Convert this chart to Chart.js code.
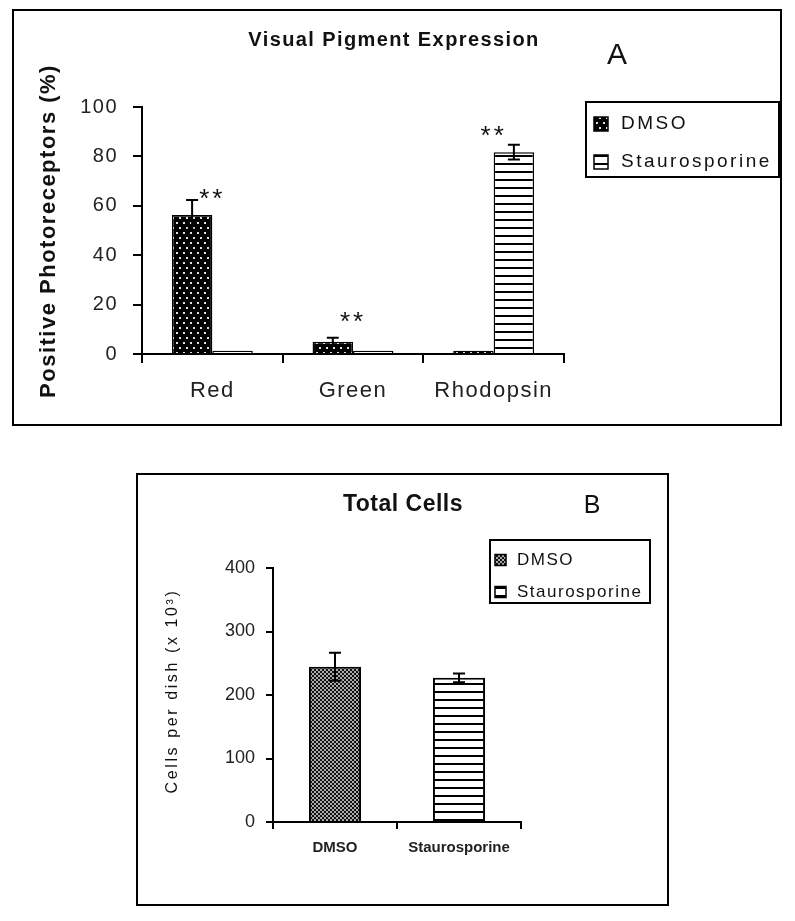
<!DOCTYPE html>
<html>
<head>
<meta charset="utf-8">
<script src="https://cdn.jsdelivr.net/npm/chart.js@4.4.1/dist/chart.umd.min.js"></script>
<style>
body{margin:0;background:#fff;width:795px;height:921px;position:relative;overflow:hidden}
.box{position:absolute;border:2px solid #000;box-sizing:border-box;background:#fff}
#boxA{left:12px;top:9px;width:770px;height:417px}
#boxB{left:136px;top:473px;width:533px;height:433px}
canvas{display:block}
</style>
</head>
<body>
<div class="box" id="boxA"><canvas id="chartA" width="766" height="413"></canvas></div>
<div class="box" id="boxB"><canvas id="chartB" width="529" height="429"></canvas></div>
<script>
/* ---- panel A : visual pigment expression ---- */
const pigmentLabels = ["Red", "Green", "Rhodopsin"];
const seriesNames = ["DMSO", "Staurosporine"];
const dmsoPigment = [56.3, 5.0, 1.3];
const dmsoPigmentErr = [6, 1.6, 0];
const stauroPigment = [1.3, 1.3, 81.7];
const stauroPigmentErr = [0, 0, 3];
const pigmentTicks = [0, 20, 40, 60, 80, 100];
const starLevel = [62.5, 12.5, 88];   // where the ** marks sit

/* ---- panel B : total cells ---- */
const cellLabels = ["DMSO", "Staurosporine"];
const cellMeans = [244.5, 227];
const cellErr = [22, 7];
const cellTicks = [0, 100, 200, 300, 400];

const FONT = "'Liberation Sans', Arial, sans-serif";
Chart.defaults.font.family = FONT;

// fill patterns
function makePattern(w, h, bg, draw){
  const c = document.createElement("canvas");
  c.width = w; c.height = h;
  const g = c.getContext("2d");
  g.fillStyle = bg; g.fillRect(0, 0, w, h);
  draw(g);
  return g.createPattern(c, "repeat");
}
const dotPattern = makePattern(7, 10, "#000", g => {
  g.fillStyle = "#e0e0e0";
  g.fillRect(1, 1, 2, 2);
  g.fillRect(4, 6, 2, 2);
});
const checkPattern = makePattern(4, 4, "#111", g => {
  g.fillStyle = "#aaa";
  g.fillRect(0, 0, 2, 2);
  g.fillRect(2, 2, 2, 2);
});
const linePattern = makePattern(8, 8, "#fff", g => {
  g.fillStyle = "#000";
  g.fillRect(0, 0, 8, 2);
});

// error bars from dataset.errors
const errorBars = {
  id: "errorBars",
  afterDatasetsDraw(chart){
    const ctx = chart.ctx, y = chart.scales.y;
    ctx.save();
    ctx.strokeStyle = "#000";
    ctx.lineWidth = 2;
    chart.data.datasets.forEach((ds, di) => {
      chart.getDatasetMeta(di).data.forEach((bar, i) => {
        const v = ds.data[i], e = ds.errors ? ds.errors[i] : 0;
        if (v == null || !e) return;
        const top = y.getPixelForValue(v + e), bot = y.getPixelForValue(v - e);
        ctx.beginPath();
        ctx.moveTo(bar.x, bot); ctx.lineTo(bar.x, top);
        ctx.moveTo(bar.x - 6, top); ctx.lineTo(bar.x + 6, top);
        ctx.moveTo(bar.x - 6, bot); ctx.lineTo(bar.x + 6, bot);
        ctx.stroke();
      });
    });
    ctx.restore();
  }
};

function text(ctx, t, x, y, font, spacing, rot){
  ctx.save();
  ctx.font = font;
  ctx.letterSpacing = spacing || "0px";
  ctx.fillStyle = "#111";
  ctx.textAlign = "center";
  ctx.textBaseline = "middle";
  ctx.translate(x, y);
  if (rot) ctx.rotate(rot);
  ctx.fillText(t, 0, 0);
  ctx.restore();
}

// titles, panel letter, rotated y title, legend box, ** marks
function makeDecor(cfg){
  return {
    id: "decor",
    beforeDraw(chart){ chart.ctx.letterSpacing = cfg.spacing || "0px"; },
    afterDraw(chart){
      const ctx = chart.ctx;
      text(ctx, cfg.title, cfg.titleX, cfg.titleY, cfg.titleFont, cfg.titleSpacing);
      text(ctx, cfg.letter, cfg.letterX, cfg.letterY, cfg.letterFont);
      text(ctx, cfg.yTitle, cfg.yTitleX, cfg.yTitleY, cfg.yTitleFont, cfg.yTitleSpacing, -Math.PI / 2);
      if (cfg.stars){
        const xs = chart.scales.x, ys = chart.scales.y;
        cfg.stars.forEach((lv, i) => {
          text(ctx, "**", xs.getPixelForValue(i), ys.getPixelForValue(lv), "26px " + FONT, "3px");
        });
      }
      const lg = cfg.legend;
      ctx.save();
      ctx.letterSpacing = "0px";
      ctx.strokeStyle = "#000";
      ctx.lineWidth = 2;
      ctx.strokeRect(lg.x, lg.y, lg.w, lg.h);
      chart.data.datasets.forEach((ds, i) => {
        const cy = lg.y + lg.rows[i];
        ctx.fillStyle = ds.backgroundColor;
        ctx.fillRect(lg.x + lg.sx, cy - lg.s / 2, lg.s, lg.s);
        ctx.lineWidth = 1.5;
        ctx.strokeRect(lg.x + lg.sx, cy - lg.s / 2, lg.s, lg.s);
      });
      ctx.restore();
      chart.data.datasets.forEach((ds, i) => {
        ctx.save();
        ctx.font = lg.font;
        ctx.letterSpacing = lg.spacing;
        ctx.fillStyle = "#111";
        ctx.textAlign = "left";
        ctx.textBaseline = "middle";
        ctx.fillText(ds.label, lg.x + lg.tx, lg.y + lg.rows[i]);
        ctx.restore();
      });
    }
  };
}

function axis(tickLen){
  return {
    grid: {display: true, drawOnChartArea: false, tickLength: tickLen, color: "#000", lineWidth: 2},
    border: {display: true, color: "#000", width: 2}
  };
}

/* ---- chart A ---- */
new Chart(document.getElementById("chartA"), {
  type: "bar",
  data: {
    labels: pigmentLabels,
    datasets: [
      {label: seriesNames[0], data: dmsoPigment, errors: dmsoPigmentErr,
       backgroundColor: dotPattern, borderColor: "#000", borderWidth: 1.5},
      {label: seriesNames[1], data: stauroPigment, errors: stauroPigmentErr,
       backgroundColor: linePattern, borderColor: "#000", borderWidth: 1.5}
    ]
  },
  options: {
    responsive: false,
    animation: false,
    layout: {padding: {left: 0, top: 96, right: 216, bottom: 10}},
    datasets: {bar: {categoryPercentage: 0.575, barPercentage: 1}},
    plugins: {legend: {display: false}, tooltip: {enabled: false}},
    scales: {
      x: Object.assign(axis(9), {
        ticks: {font: {size: 22}, color: "#222", padding: 15},
        afterFit: s => { s.height = 60; }
      }),
      y: Object.assign(axis(9), {
        min: 0, max: 100,
        afterBuildTicks: s => { s.ticks = pigmentTicks.map(v => ({value: v})); },
        ticks: {font: {size: 20}, color: "#222", padding: 15},
        afterFit: s => { s.width = 128; }
      })
    }
  },
  plugins: [errorBars, makeDecor({
    spacing: "1.5px",
    title: "Visual Pigment Expression", titleX: 380, titleY: 29,
    titleFont: "bold 20px " + FONT, titleSpacing: "1.4px",
    letter: "A", letterX: 603, letterY: 45, letterFont: "30px " + FONT,
    yTitle: "Positive Photoreceptors (%)", yTitleX: 35, yTitleY: 220,
    yTitleFont: "bold 22px " + FONT, yTitleSpacing: "1.5px",
    stars: starLevel,
    legend: {x: 572, y: 91, w: 193, h: 75, rows: [22, 60], sx: 8, s: 14, tx: 35,
             font: "19px " + FONT, spacing: "2.5px"}
  })]
});

/* ---- chart B ---- */
new Chart(document.getElementById("chartB"), {
  type: "bar",
  data: {
    labels: cellLabels,
    datasets: [
      {label: seriesNames[0], data: cellMeans.map((v, i) => i === 0 ? v : null),
       errors: cellErr.map((v, i) => i === 0 ? v : 0),
       backgroundColor: checkPattern, borderColor: "#000", borderWidth: 2},
      {label: seriesNames[1], data: cellMeans.map((v, i) => i === 1 ? v : null),
       errors: cellErr.map((v, i) => i === 1 ? v : 0),
       backgroundColor: linePattern, borderColor: "#000", borderWidth: 2}
    ]
  },
  options: {
    responsive: false,
    animation: false,
    layout: {padding: {left: 0, top: 93, right: 146, bottom: 22}},
    datasets: {bar: {categoryPercentage: 0.42, barPercentage: 1, skipNull: true}},
    plugins: {legend: {display: false}, tooltip: {enabled: false}},
    scales: {
      x: Object.assign(axis(7), {
        ticks: {font: {size: 15, weight: "bold"}, color: "#222", padding: 10},
        afterFit: s => { s.height = 60; }
      }),
      y: Object.assign(axis(7), {
        min: 0, max: 400,
        afterBuildTicks: s => { s.ticks = cellTicks.map(v => ({value: v})); },
        ticks: {font: {size: 18}, color: "#222", padding: 11},
        afterFit: s => { s.width = 135; }
      })
    }
  },
  plugins: [errorBars, makeDecor({
    spacing: "0px",
    title: "Total Cells", titleX: 265, titleY: 30,
    titleFont: "bold 23px " + FONT, titleSpacing: "0.5px",
    letter: "B", letterX: 454, letterY: 31, letterFont: "25px " + FONT,
    yTitle: "Cells per dish (x 10³)", yTitleX: 35, yTitleY: 216,
    yTitleFont: "16px " + FONT, yTitleSpacing: "2.6px",
    legend: {x: 352, y: 65, w: 160, h: 63, rows: [20, 52], sx: 5, s: 11, tx: 27,
             font: "17px " + FONT, spacing: "1.5px"}
  })]
});
</script>
</body>
</html>
